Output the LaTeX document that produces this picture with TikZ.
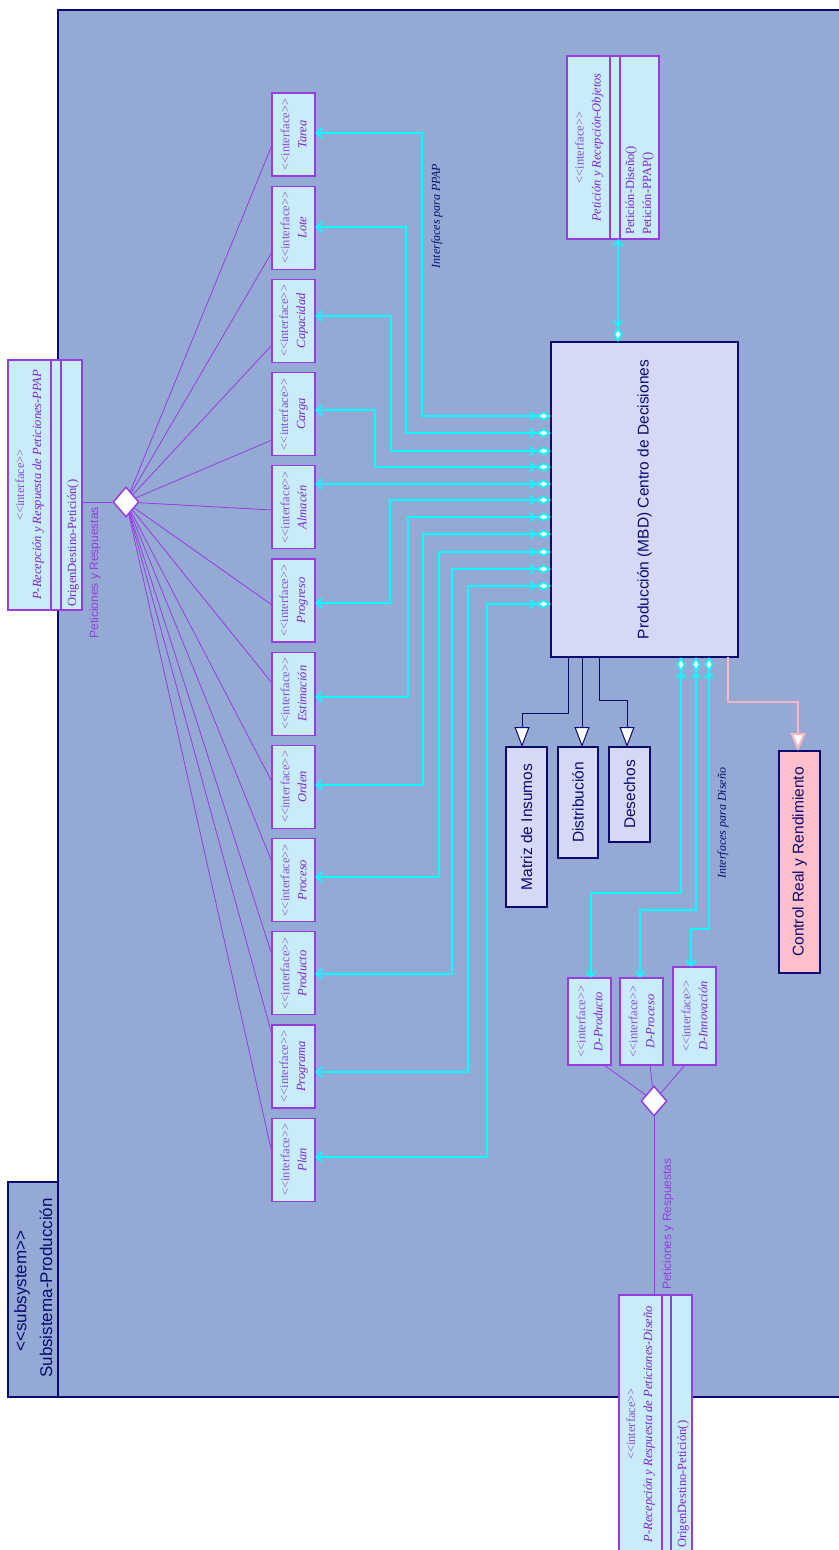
\documentclass[tikz,border=0pt]{standalone}
\usepackage{fontspec}
\setmainfont{Liberation Serif}
\setsansfont{Liberation Sans}
\usetikzlibrary{arrows.meta,shapes.geometric}
\definecolor{framec}{RGB}{148,170,212}
\definecolor{navyc}{RGB}{10,10,110}
\definecolor{lav}{RGB}{214,217,246}
\definecolor{ifill}{RGB}{200,236,250}
\definecolor{pur}{RGB}{150,60,225}
\definecolor{intc}{RGB}{140,80,210}
\definecolor{namec}{RGB}{125,35,210}
\definecolor{cyanc}{RGB}{0,255,255}
\definecolor{pinkf}{RGB}{255,192,203}
\definecolor{pinkl}{RGB}{255,180,195}
\newcommand\ltlt{\textless\kern0pt\textless}
\newcommand\gtgt{\textgreater\kern0pt\textgreater}
\newcommand\itf[1]{{\color{intc}\ltlt interface\gtgt}\\{\color{namec}\itshape #1}}
\begin{document}
\begin{tikzpicture}[x=1pt,y=-1pt,
  ibox/.style={draw=pur, fill=ifill, line width=1.2pt, inner sep=0pt, outer sep=0pt, minimum width=43pt},
  itxt/.style={rotate=90, align=center, font=\fontsize{12.5}{17}\selectfont, inner sep=0pt},
  mtxt/.style={rotate=90, anchor=base west, font=\fontsize{12.5}{14}\selectfont, text=namec, inner sep=0pt},
  cbox/.style={draw=navyc, fill=lav, line width=2pt, inner sep=0pt, outer sep=0pt},
  ctxt/.style={rotate=90, font=\sffamily\fontsize{15.5}{18}\selectfont, text=navyc},
  cy/.style={draw=cyanc, line width=1.6pt, {Diamond[fill=white,length=15pt,width=9pt] Straight Barb[length=5pt,width=9pt]}-{Straight Barb[length=6pt,width=10pt]}},
  gen/.style={draw=navyc, line width=1pt, -{Triangle[fill=white,length=20pt,width=15pt]}},
  pk/.style={draw=pinkl, line width=2pt, -{Triangle[fill=white,length=18pt,width=15pt]}},
  pl/.style={draw=pur, line width=0.8pt},
  divl/.style={draw=pur, line width=1.2pt},
  hub/.style={diamond, draw=pur, fill=white, line width=1.5pt, minimum width=26pt, minimum height=30pt, inner sep=0pt},
  lbl/.style={rotate=90, font=\sffamily\fontsize{12}{14}\selectfont, text=pur, inner sep=0pt},
  ilbl/.style={rotate=90, font=\itshape\fontsize{12}{14}\selectfont, text=navyc, inner sep=0pt}]
\useasboundingbox (0,0) rectangle (838,1550);
\fill[white] (0,0) rectangle (838,1550);
% frame and tab
\draw[draw=navyc, fill=framec, line width=2pt] (58,10) rectangle (850,1397);
\draw[draw=navyc, fill=framec, line width=2pt] (8,1182) rectangle (58,1397);
\node[rotate=90, font=\sffamily\fontsize{17}{20}\selectfont, text=navyc] (st) at (22,1291) {\ltlt subsystem\gtgt};
\node[rotate=90, font=\sffamily\fontsize{17}{20}\selectfont, text=navyc] (sn) at (46,1288) {Subsistema-Producción};

% left interface boxes
\node[ibox, minimum height=83pt] (tarea) at (293.5,134.5) {};
\node[itxt] at (tarea) {\itf{Tarea}};
\node[ibox, minimum height=83pt] (lote) at (293.5,227.7) {};
\node[itxt] at (lote) {\itf{Lote}};
\node[ibox, minimum height=83pt] (cap) at (293.5,320.9) {};
\node[itxt] at (cap) {\itf{Capacidad}};
\node[ibox, minimum height=83pt] (carga) at (293.5,414.1) {};
\node[itxt] at (carga) {\itf{Carga}};
\node[ibox, minimum height=83pt] (alm) at (293.5,507.3) {};
\node[itxt] at (alm) {\itf{Almacén}};
\node[ibox, minimum height=83pt] (prog) at (293.5,600.5) {};
\node[itxt] at (prog) {\itf{Progreso}};
\node[ibox, minimum height=83pt] (est) at (293.5,693.7) {};
\node[itxt] at (est) {\itf{Estimación}};
\node[ibox, minimum height=83pt] (orden) at (293.5,786.9) {};
\node[itxt] at (orden) {\itf{Orden}};
\node[ibox, minimum height=83pt] (proc) at (293.5,880.1) {};
\node[itxt] at (proc) {\itf{Proceso}};
\node[ibox, minimum height=83pt] (prod) at (293.5,973.3) {};
\node[itxt] at (prod) {\itf{Producto}};
\node[ibox, minimum height=83pt] (progr) at (293.5,1066.5) {};
\node[itxt] at (progr) {\itf{Programa}};
\node[ibox, minimum height=83pt] (plan) at (293.5,1159.7) {};
\node[itxt] at (plan) {\itf{Plan}};

% PPAP interface (top left)
\node[ibox, minimum width=74pt, minimum height=250pt] (ppap) at (45,485) {};
\draw[divl] (ppap.north -| 51,0) -- (ppap.south -| 51,0);
\draw[divl] (ppap.north -| 61,0) -- (ppap.south -| 61,0);
\node[itxt] at (29.5,485) {\itf{P-Recepción y Respuesta de Peticiones-PPAP}};
\node[mtxt] at (76,607) {OrigenDestino-Petición()};

% Objetos interface (top)
\node[ibox, minimum width=92pt, minimum height=183pt] (obj) at (613,147.5) {};
\draw[divl] (obj.north -| 610,0) -- (obj.south -| 610,0);
\draw[divl] (obj.north -| 620,0) -- (obj.south -| 620,0);
\node[itxt] at (589,147.5) {\itf{Petición y Recepción-Objetos}};
\node[mtxt] at (634,235) {Petición-Diseño()};
\node[mtxt] at (651,235) {Petición-PPAP()};

% Diseño interface (bottom)
\node[ibox, minimum width=73pt, minimum height=258pt] (dis) at (655.5,1424) {};
\draw[divl] (dis.north -| 662,0) -- (dis.south -| 662,0);
\draw[divl] (dis.north -| 671,0) -- (dis.south -| 671,0);
\node[itxt] at (640.5,1424) {\itf{P-Recepción y Respuesta de Peticiones-Diseño}};
\node[mtxt] at (686,1548) {OrigenDestino-Petición()};

% D interfaces
\node[ibox, minimum height=87pt] (dprod) at (589.5,1021.5) {};
\node[itxt] at (dprod) {\itf{D-Producto}};
\node[ibox, minimum height=87pt] (dproc) at (641.5,1021.5) {};
\node[itxt] at (dproc) {\itf{D-Proceso}};
\node[ibox, minimum height=98pt] (dinno) at (694.5,1016) {};
\node[itxt] at (dinno) {\itf{D-Innovación}};

% classes
\node[cbox, minimum width=187pt, minimum height=315pt] (mbd) at (644.5,499.5) {};
\node[ctxt] at (mbd) {Producción (MBD) Centro de Decisiones};
\node[cbox, minimum width=41pt, minimum height=160pt] (mat) at (526.5,827) {};
\node[ctxt] at (mat) {Matriz de Insumos};
\node[cbox, minimum width=40pt, minimum height=111pt] (distr) at (578,802.5) {};
\node[ctxt] at (distr) {Distribución};
\node[cbox, minimum width=41pt, minimum height=95pt] (desech) at (629.5,794.5) {};
\node[ctxt] at (desech) {Desechos};
\node[cbox, fill=pinkf, minimum width=41pt, minimum height=222pt] (ctrl) at (799.5,862) {};
\node[ctxt] at (ctrl) {Control Real y Rendimiento};

% hubs
\node[hub] (hubA) at (126,502) {};
\node[hub] (hubB) at (654,1101) {};
\draw[pl] (ppap.east |- hubA) -- (hubA);
\draw[pl] (hubA) -- (tarea.west |- 0,145);
\draw[pl] (hubA) -- (lote.west |- 0,252);
\draw[pl] (hubA) -- (cap.west |- 0,345);
\draw[pl] (hubA) -- (carga.west |- 0,440);
\draw[pl] (hubA) -- (alm.west |- 0,510);
\draw[pl] (hubA) -- (prog.west |- 0,605);
\draw[pl] (hubA) -- (est.west |- 0,683);
\draw[pl] (hubA) -- (orden.west |- 0,782);
\draw[pl] (hubA) -- (proc.west |- 0,862);
\draw[pl] (hubA) -- (prod.west |- 0,955);
\draw[pl] (hubA) -- (progr.west |- 0,1035);
\draw[pl] (hubA) -- (plan.west |- 0,1153);
\draw[pl] (hubB) -- (dprod.south -| 604,0);
\draw[pl] (hubB) -- (dproc.south -| 650,0);
\draw[pl] (hubB) -- (dinno.south -| 685,0);
\draw[pl] (hubB) -- (dis.north -| hubB);

% cyan interface connectors
\draw[cy] (mbd.west |- 0,416) -| (422,133) -- (tarea.east |- 0,133);
\draw[cy] (mbd.west |- 0,433) -| (406,227) -- (lote.east |- 0,227);
\draw[cy] (mbd.west |- 0,451) -| (391,316) -- (cap.east |- 0,316);
\draw[cy] (mbd.west |- 0,467) -| (375,410) -- (carga.east |- 0,410);
\draw[cy] (mbd.west |- 0,484) -- (alm.east |- 0,484);
\draw[cy] (mbd.west |- 0,500) -| (390,603) -- (prog.east |- 0,603);
\draw[cy] (mbd.west |- 0,517) -| (408,697) -- (est.east |- 0,697);
\draw[cy] (mbd.west |- 0,534) -| (423,785) -- (orden.east |- 0,785);
\draw[cy] (mbd.west |- 0,552) -| (439,877) -- (proc.east |- 0,877);
\draw[cy] (mbd.west |- 0,569) -| (452,974) -- (prod.east |- 0,974);
\draw[cy] (mbd.west |- 0,586) -| (468,1072) -- (progr.east |- 0,1072);
\draw[cy] (mbd.west |- 0,604) -| (487,1157) -- (plan.east |- 0,1157);
\draw[cy] (mbd.north -| 618,0) -- (obj.south -| 618,0);
\draw[cy] (mbd.south -| 681,0) |- (591,893) -- (dprod.north -| 591,0);
\draw[cy] (mbd.south -| 696,0) |- (640,910) -- (dproc.north -| 640,0);
\draw[cy] (mbd.south -| 709,0) |- (691,929) -- (dinno.north -| 691,0);

% generalizations
\draw[gen] (mbd.south -| 568,0) |- (522,713) -- (mat.north -| 522,0);
\draw[gen] (mbd.south -| 582,0) -- (distr.north -| 582,0);
\draw[gen] (mbd.south -| 599,0) |- (627,700) -- (desech.north -| 627,0);
\draw[pk] (mbd.south -| 728,0) |- (798,702) -- (ctrl.north -| 798,0);

% labels
\node[lbl, anchor=east] (lblA) at (95,507) {Peticiones y Respuestas};
\node[lbl, anchor=west] (lblB) at (668,1290) {Peticiones y Respuestas};
\node[ilbl] (lblC) at (437,216) {Interfaces para PPAP};
\node[ilbl] (lblD) at (723,823) {Interfaces para Diseño};
\end{tikzpicture}
\end{document}
